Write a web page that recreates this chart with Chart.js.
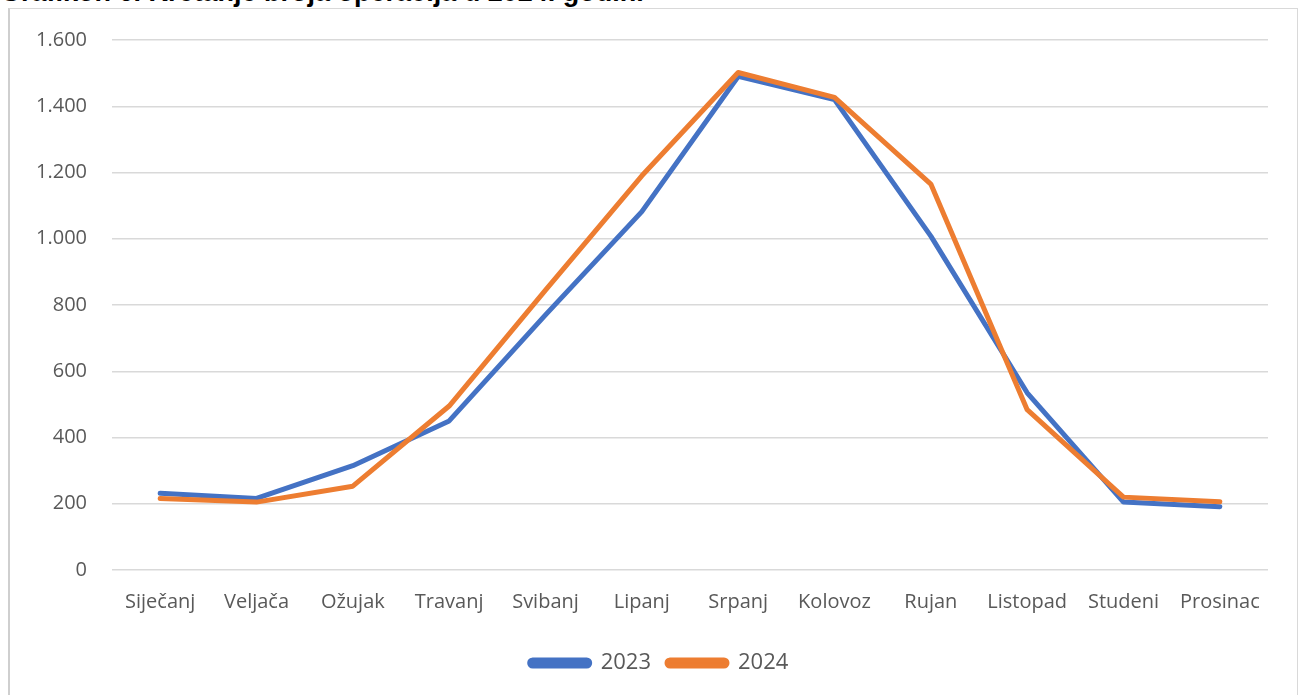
<!DOCTYPE html>
<html>
<head>
<meta charset="utf-8">
<script src="https://cdn.jsdelivr.net/npm/chart.js@4"></script>
<style>
  html, body { margin: 0; padding: 0; background: #ffffff; overflow: hidden; }
  body { width: 1299px; height: 695px; position: relative; }
  #title { position: absolute; left: 0; top: -23px; font: bold 27px "Liberation Sans", Arial, sans-serif; color: #000; white-space: nowrap; }
  #box { position: absolute; left: 8px; top: 8px; width: 1290px; height: 700px; border: 1px solid #d9d9d9; border-left: 2px solid #cfcfcf; box-sizing: border-box; background: #fff; }
  #wrap { position: absolute; left: 0; top: 0; width: 1299px; height: 695px; }
</style>
</head>
<body>
<div id="title">Grafikon 6. Kretanje broja operacija u 2024. godini</div>
<div id="box"></div>
<div id="wrap"><canvas id="c" width="1299" height="695"></canvas></div>
<script>
const categories = ["Siječanj", "Veljača", "Ožujak", "Travanj", "Svibanj", "Lipanj", "Srpanj", "Kolovoz", "Rujan", "Listopad", "Studeni", "Prosinac"];
const series2023 = [232, 216, 315, 450, 770, 1082, 1490, 1420, 1008, 535, 205, 191];
const series2024 = [216, 205, 253, 495, 845, 1190, 1502, 1427, 1165, 484, 220, 206];
const seriesNames = ["2023", "2024"];
const yTicks = [0, 200, 400, 600, 800, 1000, 1200, 1400, 1600];
const yTickLabels = ["0", "200", "400", "600", "800", "1.000", "1.200", "1.400", "1.600"];

const BLUE = "#4472C4";
const ORANGE = "#ED7D31";
const FONT = "'Open Sans', sans-serif";

const legendShift = {
  id: "legendShift",
  afterLayout(chart) {
    const lg = chart.legend;
    if (!lg) return;
    const dx = 25;
    lg.left += dx; lg.right += dx;
    const h = lg.bottom - lg.top;
    lg.top = 636; lg.bottom = lg.top + h;
  }
};

new Chart(document.getElementById("c"), {
  type: "line",
  data: {
    labels: categories,
    datasets: [
      { label: seriesNames[0], data: series2023, borderColor: BLUE, backgroundColor: BLUE, borderWidth: 5, pointRadius: 0, tension: 0, borderJoinStyle: "round", borderCapStyle: "round", order: 1 },
      { label: seriesNames[1], data: series2024, borderColor: ORANGE, backgroundColor: ORANGE, borderWidth: 5, pointRadius: 0, tension: 0, borderJoinStyle: "round", borderCapStyle: "round", order: 0 }
    ]
  },
  plugins: [legendShift],
  options: {
    responsive: false,
    animation: false,
    layout: { padding: { left: 0, top: 40, right: 31, bottom: 7 } },
    plugins: {
      tooltip: { enabled: false },
      legend: {
        position: "bottom",
        labels: {
          sort: (a, b) => a.datasetIndex - b.datasetIndex,
          boxWidth: 60,
          boxHeight: 6,
          useBorderRadius: true,
          borderRadius: 3,
          padding: 16,
          color: "#595959",
          font: { family: FONT, size: 22 }
        }
      }
    },
    scales: {
      x: {
        offset: true,
        grid: { display: false, drawTicks: false },
        border: { display: false },
        ticks: { color: "#595959", font: { family: FONT, size: 20 }, padding: 20, maxRotation: 0, autoSkip: false },
        afterFit: (s) => { s.height = 70; }
      },
      y: {
        min: 0, max: 1600,
        afterBuildTicks: (s) => { s.ticks = yTicks.map(v => ({ value: v })); },
        grid: { color: "#d9d9d9", lineWidth: 1.5, drawTicks: false },
        border: { display: false },
        ticks: {
          color: "#595959", font: { family: FONT, size: 20 }, padding: 25,
          callback: (v) => { const i = yTicks.indexOf(v); return i >= 0 ? yTickLabels[i] : ""; }
        },
        afterFit: (s) => { s.width = 112; }
      }
    }
  }
});
</script>
</body>
</html>
